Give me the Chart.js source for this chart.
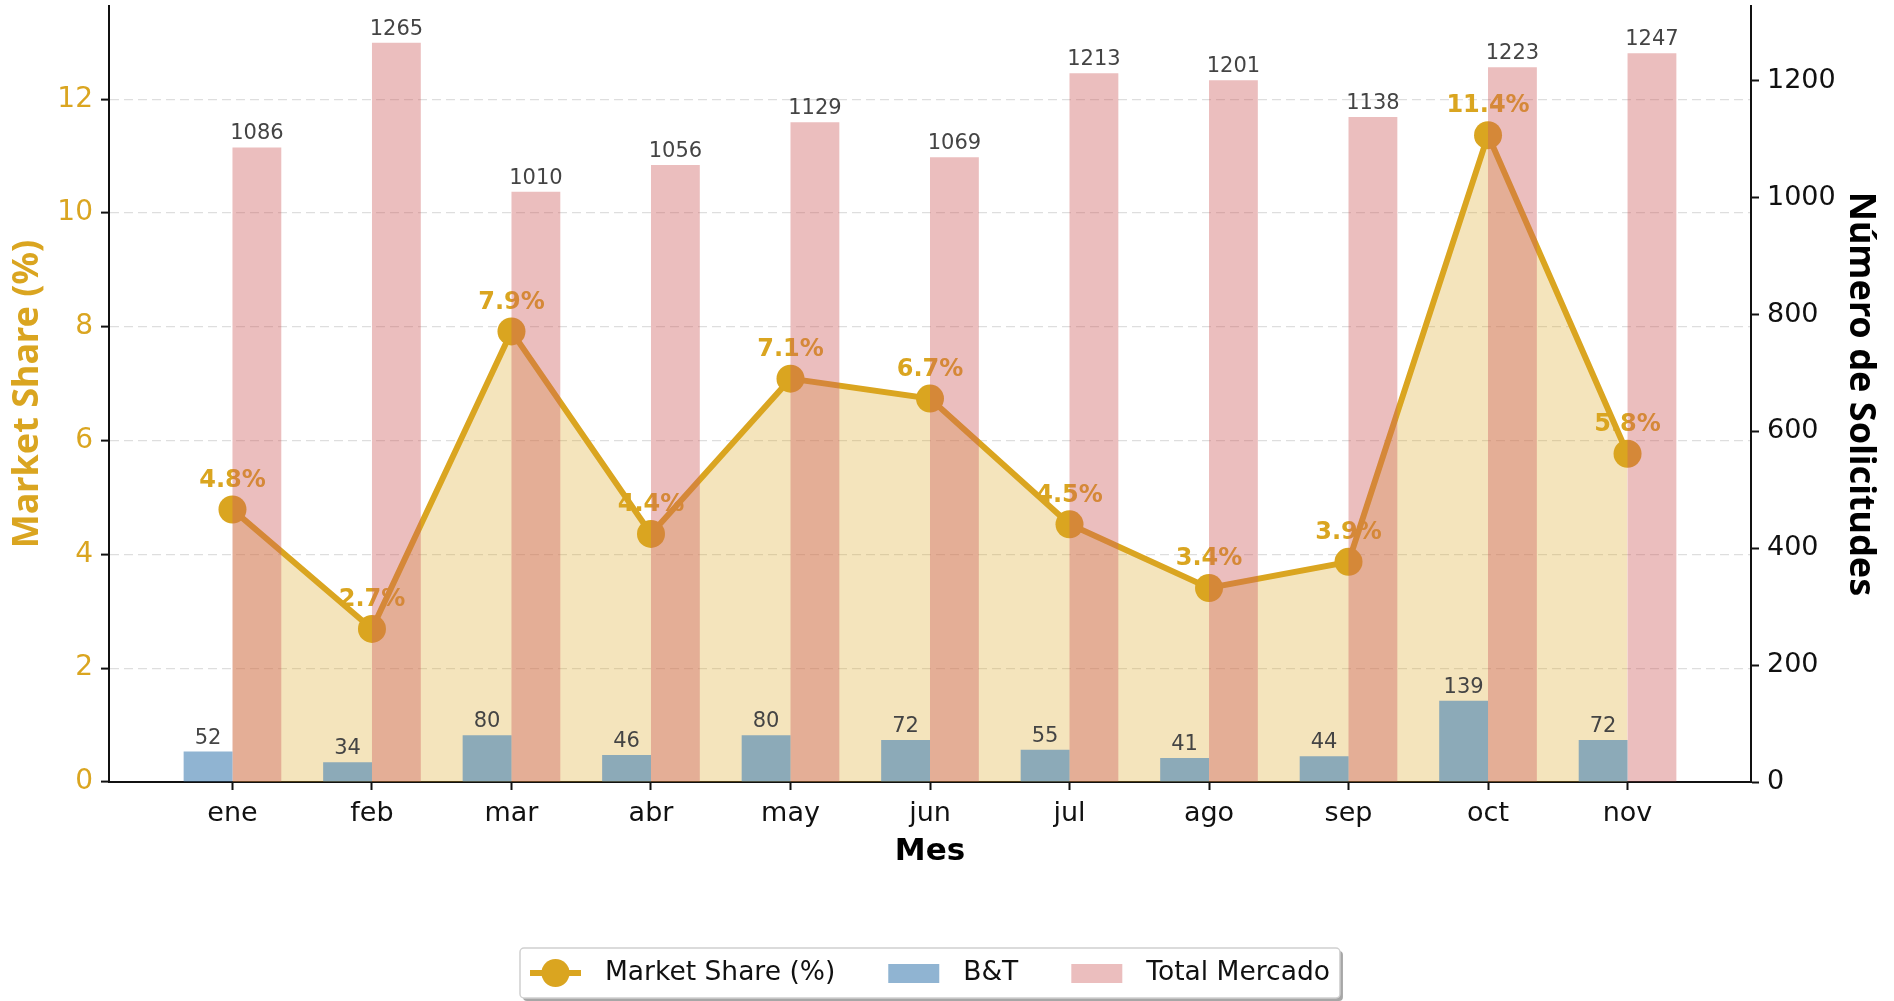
<!DOCTYPE html>
<html lang="es">
<head>
  <meta charset="UTF-8">
  <title>Market Share B&amp;T vs Total Mercado</title>
  <script src="https://cdn.jsdelivr.net/npm/chart.js"></script>
  <style>
    body {
      margin: 0;
      background: #fff;
    }
    canvas {
      display: block;
    }
  </style>
</head>
<body>
  <canvas id="grafico" width="1894" height="1001"></canvas>

  <script>
    // datos
    const meses = ['ene', 'feb', 'mar', 'abr', 'may', 'jun', 'jul', 'ago', 'sep', 'oct', 'nov'];
    const marketShare = [4.79, 2.69, 7.92, 4.36, 7.09, 6.74, 4.53, 3.41, 3.87, 11.37, 5.77];
    const solicitudesBT = [52, 34, 80, 46, 80, 72, 55, 41, 44, 139, 72];
    const totalMercado = [1086, 1265, 1010, 1056, 1129, 1069, 1213, 1201, 1138, 1223, 1247];
    const ticksShare = [0, 2, 4, 6, 8, 10, 12];
    const ticksSolicitudes = [0, 200, 400, 600, 800, 1000, 1200];

    const ORO = '#DAA520';
    const AZUL = 'rgba(70, 130, 180, 0.6)';
    const ROJO = 'rgba(205, 92, 92, 0.4)';
    const FUENTE = '"DejaVu Sans", sans-serif';

    // etiquetas de valores (porcentajes bajo las barras, cantidades encima)
    const etiquetas = {
      id: 'etiquetas',
      afterDatasetDraw(chart, args) {
        if (args.index !== 0) return;
        const ctx = chart.ctx;
        ctx.save();
        ctx.font = 'bold 24px ' + FUENTE;
        ctx.fillStyle = ORO;
        ctx.textAlign = 'center';
        ctx.textBaseline = 'middle';
        args.meta.data.forEach((pt, i) => {
          ctx.fillText(marketShare[i].toFixed(1) + '%', pt.x, pt.y - 29);
        });
        ctx.restore();
      },
      afterDatasetsDraw(chart) {
        const ctx = chart.ctx;
        ctx.save();
        ctx.font = '21px ' + FUENTE;
        ctx.fillStyle = '#444';
        ctx.textAlign = 'center';
        ctx.textBaseline = 'bottom';
        [1, 2].forEach(d => {
          const valores = chart.data.datasets[d].data;
          chart.getDatasetMeta(d).data.forEach((bar, i) => {
            ctx.fillText(String(valores[i].y), bar.x, bar.y - 3);
          });
        });
        ctx.restore();
      }
    };

    // leyenda con marco, estilo matplotlib
    const leyenda = {
      id: 'leyenda',
      afterDraw(chart) {
        const ctx = chart.ctx;
        const ds = chart.data.datasets;
        ctx.save();
        ctx.font = '26.5px ' + FUENTE;
        const handle = 51, gap = 24, sep = 53, pad = 10;
        const anchos = ds.map(d => ctx.measureText(d.label).width);
        const total = pad * 2 + anchos.reduce((s, w) => s + handle + gap + w, 0) + sep * (ds.length - 1);
        const cx = (chart.chartArea.left + chart.chartArea.right) / 2;
        const x0 = Math.round(cx - total / 2), y0 = 948, h = 50;

        ctx.fillStyle = 'rgba(0,0,0,0.35)';
        ctx.beginPath();
        ctx.roundRect(x0 + 3, y0 + 3, total, h, 4);
        ctx.fill();
        ctx.fillStyle = '#fff';
        ctx.strokeStyle = '#d0d0d0';
        ctx.lineWidth = 1.5;
        ctx.beginPath();
        ctx.roundRect(x0, y0, total, h, 4);
        ctx.fill();
        ctx.stroke();

        const cy = y0 + h / 2;
        let x = x0 + pad;
        ds.forEach((d, i) => {
          if (d.type === 'line') {
            ctx.strokeStyle = ORO;
            ctx.lineWidth = 6;
            ctx.beginPath();
            ctx.moveTo(x, cy);
            ctx.lineTo(x + handle, cy);
            ctx.stroke();
            ctx.fillStyle = ORO;
            ctx.beginPath();
            ctx.arc(x + handle / 2, cy, 14, 0, Math.PI * 2);
            ctx.fill();
          } else {
            ctx.fillStyle = d.backgroundColor;
            ctx.fillRect(x, cy - 9, handle, 19);
          }
          x += handle + gap;
          ctx.fillStyle = '#111';
          ctx.textAlign = 'left';
          ctx.textBaseline = 'middle';
          ctx.fillText(d.label, x, cy);
          x += anchos[i] + sep;
        });
        ctx.restore();
      }
    };

    // sin relleno extra de etiquetas en los bordes del area
    const sinRelleno = s => {
      s.paddingTop = 0;
      s.paddingBottom = 0;
      s.paddingLeft = 0;
      s.paddingRight = 0;
    };

    new Chart(document.getElementById('grafico'), {
      data: {
        datasets: [
          {
            type: 'line',
            label: 'Market Share (%)',
            data: marketShare.map((v, i) => ({ x: i, y: v })),
            yAxisID: 'y',
            borderColor: ORO,
            borderWidth: 6,
            backgroundColor: 'rgba(218, 165, 32, 0.3)',
            fill: 'origin',
            pointRadius: 14,
            pointBackgroundColor: ORO,
            pointBorderColor: ORO,
            pointBorderWidth: 0,
            tension: 0,
            order: 2
          },
          {
            type: 'bar',
            label: 'B&T',
            data: solicitudesBT.map((v, i) => ({ x: i, y: v })),
            yAxisID: 'y1',
            backgroundColor: AZUL,
            categoryPercentage: 0.7,
            barPercentage: 1.0,
            order: 1
          },
          {
            type: 'bar',
            label: 'Total Mercado',
            data: totalMercado.map((v, i) => ({ x: i, y: v })),
            yAxisID: 'y1',
            backgroundColor: ROJO,
            categoryPercentage: 0.7,
            barPercentage: 1.0,
            order: 1
          }
        ]
      },
      options: {
        responsive: false,
        animation: false,
        layout: { autoPadding: false, padding: { top: 6, bottom: 130, left: 0, right: 0 } },
        plugins: {
          legend: { display: false },
          tooltip: { enabled: false }
        },
        scales: {
          x: {
            type: 'linear',
            offset: false,
            min: -0.885,
            max: 10.885,
            afterBuildTicks: s => { s.ticks = meses.map((_, i) => ({ value: i })); },
            afterFit: s => { s.height = 89; sinRelleno(s); },
            ticks: {
              callback: v => meses[v],
              font: { size: 27, family: FUENTE },
              color: '#111',
              padding: 8,
              maxRotation: 0,
              autoSkip: false
            },
            grid: { offset: false, drawOnChartArea: false, tickColor: '#111', tickLength: 8, tickWidth: 2 },
            border: { color: '#111', width: 2 },
            title: {
              display: true,
              text: 'Mes',
              font: { size: 31, weight: 'bold', family: FUENTE },
              color: '#000',
              padding: { top: 0, bottom: 0 }
            }
          },
          y: {
            position: 'left',
            min: 0,
            max: 13.64,
            afterBuildTicks: s => { s.ticks = ticksShare.map(v => ({ value: v })); },
            afterFit: s => { s.width = 109; sinRelleno(s); },
            ticks: {
              font: { size: 28, family: FUENTE },
              color: ORO,
              padding: 8
            },
            grid: { color: '#dedede', lineWidth: 1.2, tickColor: '#111', tickLength: 8, tickWidth: 2 },
            border: { color: '#111', width: 2, dash: [9, 5] },
            title: {
              display: true,
              text: 'Market Share (%)',
              font: { size: 36, weight: 'bold', family: '"Noto Sans", sans-serif' },
              color: ORO,
              padding: { top: 6, bottom: 0 }
            }
          },
          y1: {
            position: 'right',
            min: 0,
            max: 1328,
            afterBuildTicks: s => { s.ticks = ticksSolicitudes.map(v => ({ value: v })); },
            afterFit: s => { s.width = 143; sinRelleno(s); },
            ticks: {
              callback: v => String(v),
              font: { size: 27, family: FUENTE },
              color: '#111',
              padding: 8
            },
            grid: { drawOnChartArea: false, tickColor: '#111', tickLength: 8, tickWidth: 2 },
            border: { color: '#111', width: 2 },
            title: {
              display: true,
              text: 'Número de Solicitudes',
              font: { size: 36, weight: 'bold', family: '"Noto Sans", sans-serif' },
              color: '#000',
              padding: { top: 12, bottom: 0 }
            }
          }
        }
      },
      plugins: [etiquetas, leyenda]
    });
  </script>
</body>
</html>
